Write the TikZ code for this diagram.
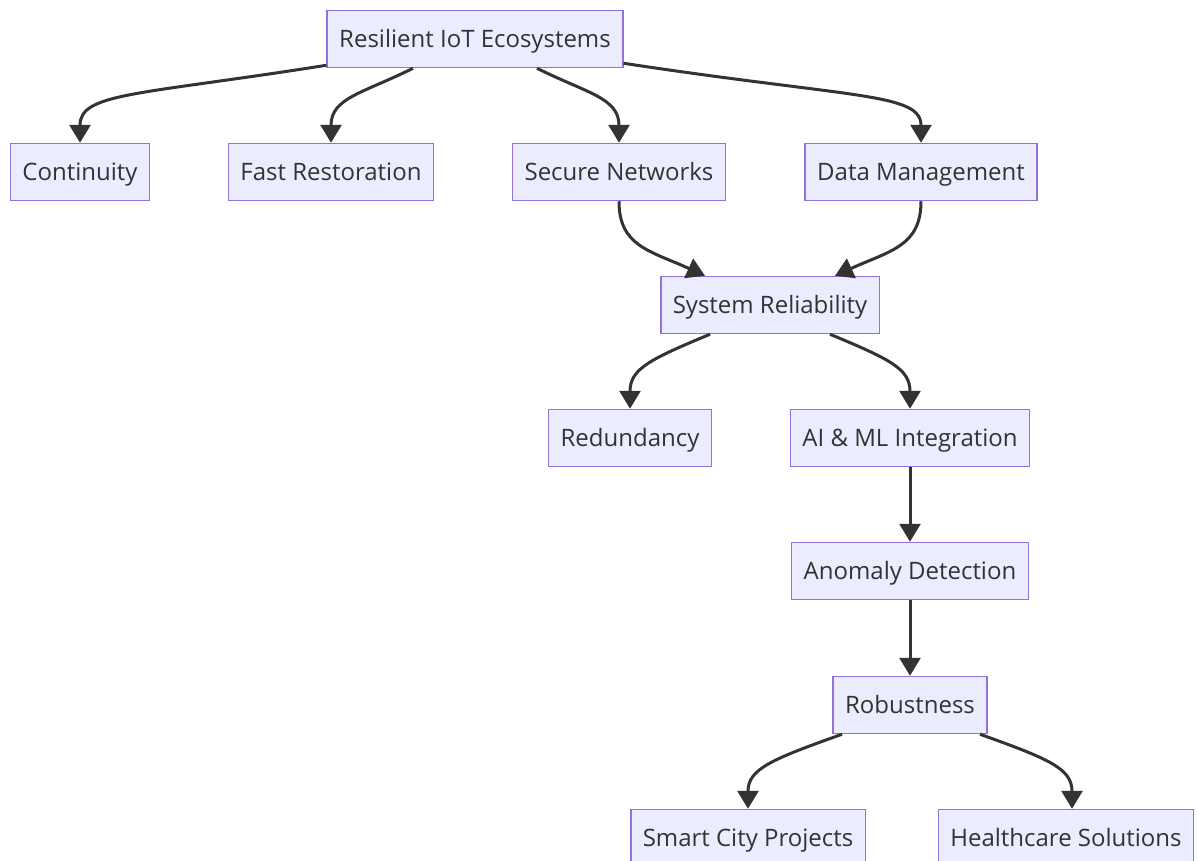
\documentclass[tikz,border=0pt]{standalone}
\usepackage{fontspec}
\setmainfont{Open Sans}
\usepackage{xcolor}
\definecolor{flowfill}{HTML}{ECECFF}
\definecolor{flowborder}{HTML}{9370DB}
\definecolor{flowtext}{HTML}{333333}
\definecolor{flowline}{HTML}{333333}
\usetikzlibrary{arrows.meta}
\tikzset{
  flow node/.style={draw=flowborder, fill=flowfill, line width=1.5pt, text=flowtext, minimum height=57pt, inner xsep=12pt, text height=19pt, text depth=3pt, font=\fontsize{24}{28}\selectfont},
  flow edge/.style={-{Triangle[length=18pt, width=21pt]}, draw=flowline, line width=3pt},
}

\begin{document}
\begin{tikzpicture}[x=1pt, y=-1pt]
  \useasboundingbox (0,0) rectangle (1197,860);
  % top level
  \node[flow node] (root) at (475,39) {Resilient IoT Ecosystems};
  \node[flow node] (cont) at (80,172) {Continuity};
  \node[flow node] (fast) at (331,172) {Fast Restoration};
  \node[flow node] (secure) at (619,172) {Secure Networks};
  \node[flow node] (data) at (921,172) {Data Management};
  % reliability branch
  \node[flow node] (rel) at (770,305) {System Reliability};
  \node[flow node] (redund) at (630,438) {Redundancy};
  \node[flow node] (aiml) at (910,438) {AI \& ML Integration};
  \node[flow node] (anomaly) at (910,571) {Anomaly Detection};
  \node[flow node] (robust) at (910,705) {Robustness};
  \node[flow node] (smart) at (748,838) {Smart City Projects};
  \node[flow node] (health) at (1066,838) {Healthcare Solutions};

  \draw[flow edge] ([yshift=3pt]root.south west) .. controls +(-190,30) and +(0,-50) .. (cont.north);
  \draw[flow edge] ([xshift=-62pt]root.south) .. controls +(-50,25) and +(0,-45) .. (fast.north);
  \draw[flow edge] ([xshift=62pt]root.south) .. controls +(50,25) and +(0,-45) .. (secure.north);
  \draw[flow edge] ([yshift=5pt]root.south east) .. controls +(230,35) and +(0,-50) .. (data.north);
  \draw[flow edge] (secure.south) .. controls +(0,45) and +(-55,-25) .. ([xshift=-65pt]rel.north);
  \draw[flow edge] (data.south) .. controls +(0,45) and +(55,-25) .. ([xshift=65pt]rel.north);
  \draw[flow edge] ([xshift=-60pt]rel.south) .. controls +(-60,25) and +(0,-40) .. (redund.north);
  \draw[flow edge] ([xshift=60pt]rel.south) .. controls +(60,25) and +(0,-40) .. (aiml.north);
  \draw[flow edge] (aiml) -- (anomaly);
  \draw[flow edge] (anomaly) -- (robust);
  \draw[flow edge] ([xshift=-68pt]robust.south) .. controls +(-70,25) and +(0,-40) .. (smart.north);
  \draw[flow edge] ([xshift=70pt]robust.south) .. controls +(70,25) and +(0,-40) .. ([xshift=6pt]health.north);
\end{tikzpicture}
\end{document}
